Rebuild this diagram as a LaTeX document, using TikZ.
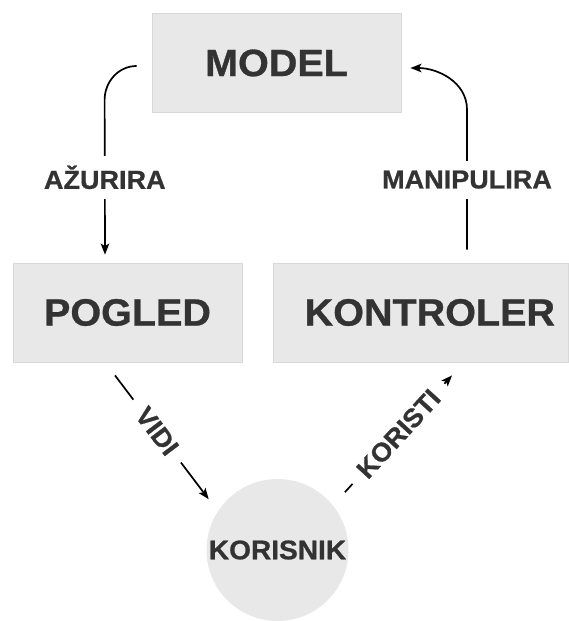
\documentclass[tikz,border=0pt]{standalone}
\usepackage{fontspec}
\setsansfont{Liberation Sans}[BoldFeatures={FakeBold=0.8,FakeStretch=1.04}]
\usepackage{tikz}
\usetikzlibrary{shapes,arrows.meta,positioning}

\definecolor{boxgray}{HTML}{E8E8E8}
\definecolor{rimgray}{HTML}{D8D8D8}
\definecolor{inkgray}{HTML}{333333}

\begin{document}
\begin{tikzpicture}[->,>={Stealth[length=11pt,width=8.5pt,inset=2.5pt]},line width=1.7pt,x=1pt,y=1pt,
  main node/.style={rectangle,fill=boxgray,draw=rimgray,line width=0.8pt,text=inkgray,
    font=\sffamily\bfseries\fontsize{38}{40}\selectfont,minimum height=99pt},
  user node/.style={circle,fill=boxgray,text=inkgray,inner sep=0pt,
    font=\sffamily\bfseries\fontsize{27}{29}\selectfont,minimum size=142pt},
  label node/.style={fill=white,text=inkgray,inner xsep=13pt,inner ysep=10pt,
    font=\sffamily\bfseries\fontsize{26}{28}\selectfont}]

  \useasboundingbox (0,0) rectangle (569,-621);

  \node[main node,minimum width=249pt] (model) at (276.5,-63) {MODEL};
  \node[main node,minimum width=229pt] (pogled) at (127.5,-312.5) {POGLED};
  \node[main node,minimum width=295pt,text width=269pt,align=right] (kontroler) at (420.5,-312.5) {KONTROLER};
  \node[user node] (korisnik) at (277.5,-550) {KORISNIK};

  % model -> pogled
  \draw ([xshift=-15pt,yshift=-3pt]model.west) to[out=180,in=90] ++(-32,-34)
    -- node[label node] {AŽURIRA} ([xshift=-22.5pt,yshift=8pt]pogled.north);
  % kontroler -> model
  \draw ([xshift=46.5pt,yshift=13pt]kontroler.north) -- node[label node] {MANIPULIRA} ++(0,140)
    to[out=90,in=0] ([xshift=9pt,yshift=-5pt]model.east);
  % pogled -> korisnik -> kontroler
  \draw ([xshift=-12.5pt,yshift=-13pt]pogled.south)
    -- node[label node,sloped,pos=0.45] {VIDI} ([xshift=-18pt]korisnik.135);
  \draw ([xshift=16.6pt,yshift=7pt]korisnik.45)
    -- node[label node,sloped] {KORISTI} ([xshift=31.5pt,yshift=-13pt]kontroler.south);
\end{tikzpicture}
\end{document}
